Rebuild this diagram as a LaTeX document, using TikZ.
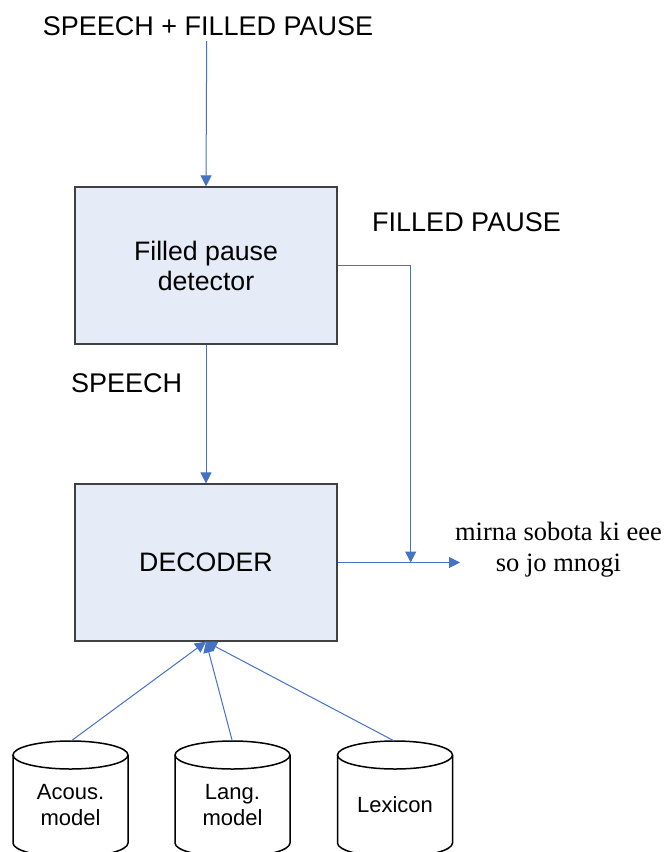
\documentclass[tikz,border=0pt]{standalone}
\usepackage{fontspec}
\setmainfont{Liberation Sans}
\newfontfamily\timesfont{Liberation Serif}
\usetikzlibrary{arrows.meta}
\definecolor{lineblue}{HTML}{4472C4}
\definecolor{boxfill}{HTML}{E6ECF7}
\definecolor{boxline}{HTML}{404040}
\newcommand\drumcyl[1]{%
  \draw[cylline] ({#1-57.5},755) -- ({#1-57.5},843) arc[start angle=180,end angle=360,x radius=57.5pt,y radius=14pt] -- ({#1+57.5},755);
  \draw[cylline] (#1,755) ellipse[x radius=57.5pt,y radius=14pt];}
\begin{document}
\begin{tikzpicture}[x=1pt,y=-1pt,
  procbox/.style={draw=boxline,fill=boxfill,line width=1.2pt,minimum width=262pt,minimum height=157pt,inner sep=0pt,align=center,font=\fontsize{26.7}{30}\selectfont},
  flow/.style={draw=lineblue,line width=1pt,-{Triangle[length=11pt,width=11pt]}},
  lbl/.style={font=\fontsize{27}{30}\selectfont,inner sep=0pt,anchor=base},
  cyltext/.style={font=\fontsize{22}{26.5}\selectfont,align=center,inner sep=0pt},
  cylline/.style={draw=black,line width=1.5pt,fill=white}]
\clip (0,0) rectangle (664,852);
\fill[white] (0,0) rectangle (664,852);

% process boxes
\node[procbox] (fpd) at (206,265.5) {Filled pause\\detector};
\node[procbox] (dec) at (206,562.5) {DECODER};

% labels
\node[lbl] (inlbl) at (208,35) {SPEECH + FILLED PAUSE};
\node[lbl] (fplbl) at (466.5,231.7) {FILLED PAUSE};
\node[lbl] (splbl) at (126.7,392) {SPEECH};
\node[font=\timesfont\fontsize{26.5}{31}\selectfont,align=center,inner sep=0pt] (outtxt) at (558.5,549.3) {mirna sobota ki eee\\so jo mnogi};

% cylinders
\drumcyl{70.5}
\drumcyl{232.5}
\drumcyl{395}
\node[cyltext] (acm) at (70.5,805) {Acous.\\model};
\node[cyltext] (lgm) at (232.5,805) {Lang.\\model};
\node[cyltext] (lex) at (395,805) {Lexicon};

% coordinates
\coordinate (instart) at (206.7,41);
\coordinate (fpcorner) at (410.7,265.5);
\coordinate (merge) at (410.7,562.5);
\coordinate (outend) at (460,562.5);
\coordinate (acmtop) at (71,741);
\coordinate (lgmtop) at (232.3,741);
\coordinate (lextop) at (394.3,741);

% connectors
\draw[flow] (instart) -- (fpd.north);
\draw[flow] (fpd.south) -- (dec.north);
\draw[flow] (fpd.east) -- (fpcorner) -- (merge);
\draw[flow] (dec.east) -- (outend);
\draw[flow] (acmtop) -- (dec.south);
\draw[flow] (lgmtop) -- (dec.south);
\draw[flow] (lextop) -- (dec.south);
\end{tikzpicture}
\end{document}
